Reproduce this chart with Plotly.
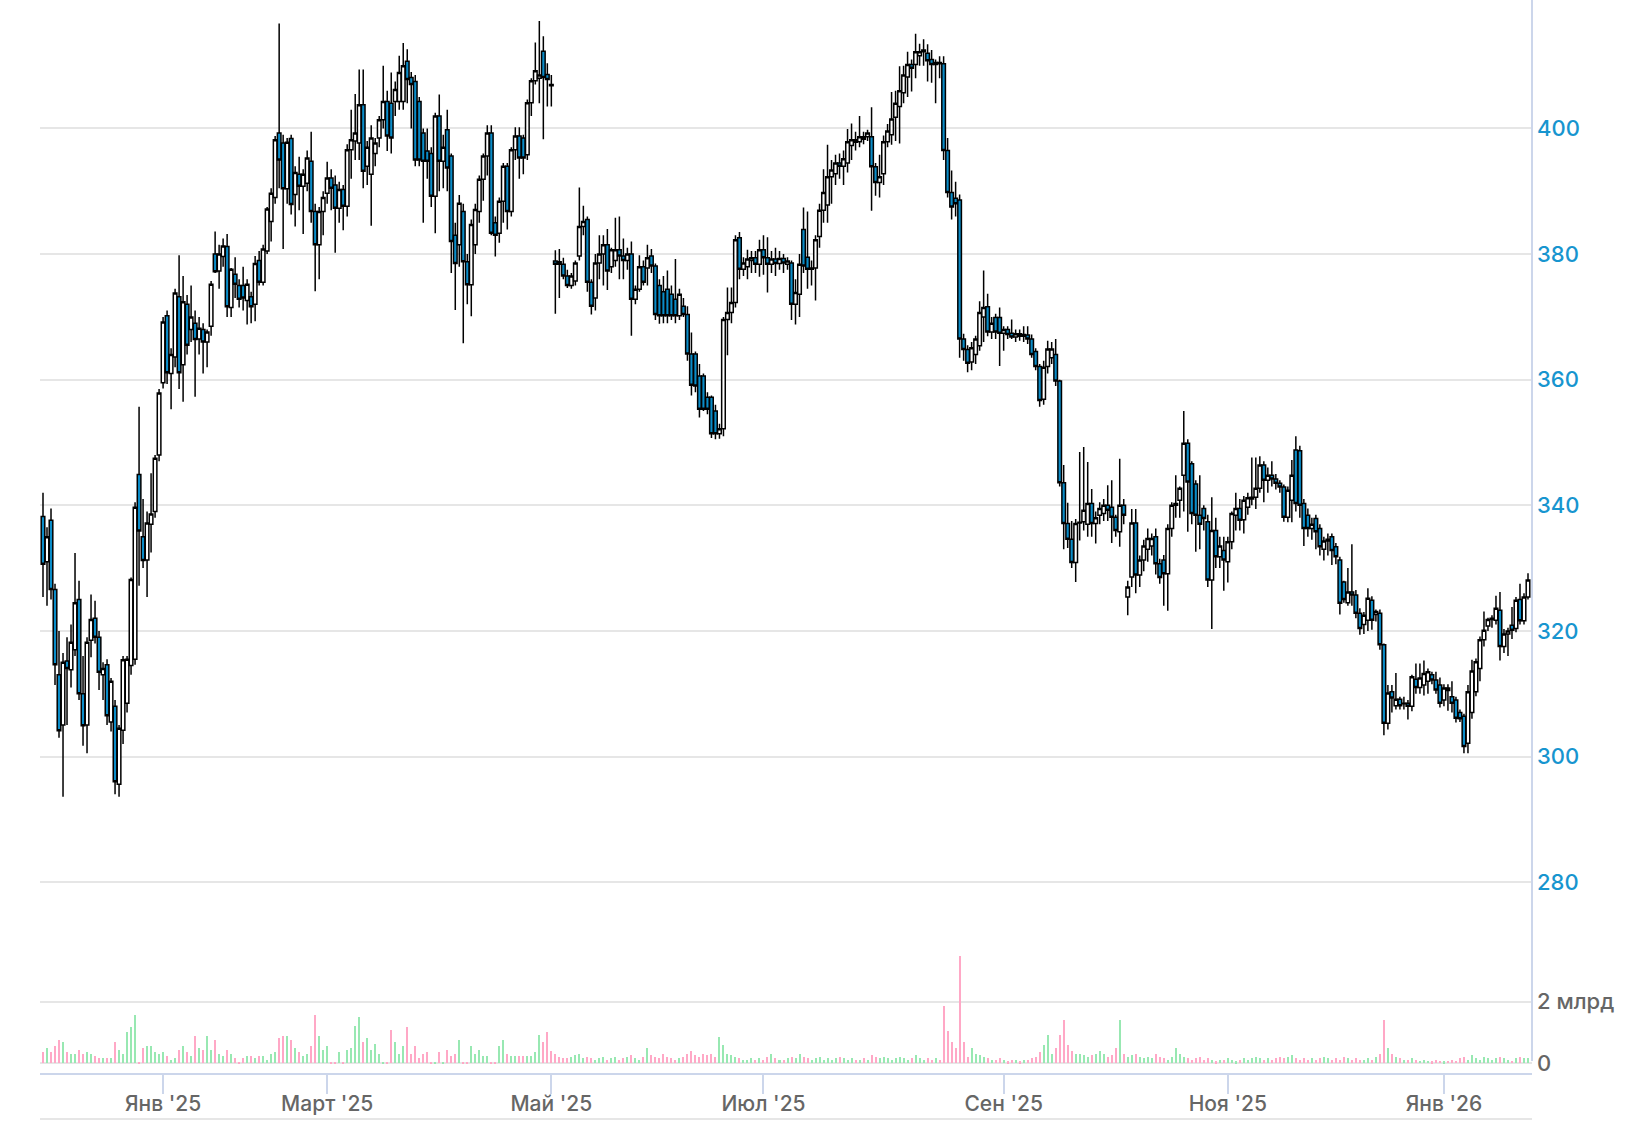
import plotly.graph_objects as go

# ---------------- data ----------------
opens = [
    338.2, 331, 337.6, 326.6, 313, 305, 315.2, 313.8, 317, 325,
    310, 305, 318.5, 322, 319, 313, 314.6, 305.5, 308, 295.6,
    304.2, 308.5, 314.5, 315.5, 344.9, 335, 331.3, 337, 339, 348,
    359.5, 370.2, 361, 363.6, 373.2, 362.4, 372, 368, 369, 366.5,
    368, 366, 368.5, 380, 377.3, 379.6, 381.2, 371.5, 376.8, 375,
    375, 372.6, 373.2, 372, 379, 375.5, 380.5, 385.2, 389, 399.3,
    397.7, 390.4, 398.4, 389.5, 392.7, 390.8, 391.3, 394.8, 386.8, 381.5,
    386.8, 389.7, 392.1, 391, 387.3, 390.3, 387.6, 396.6, 398, 397.7,
    403.8, 394, 392.7, 396, 398.5, 401.4, 404.3, 404, 404.3, 404.3,
    404.3, 410.7, 408.1, 407.5, 404.3, 399.3, 396.4, 396, 389.2, 402,
    394.8, 399.8, 395.6, 383, 381.5, 386.8, 378.8, 375.1, 381.5, 386.8,
    391.9, 395.6, 399.3, 385, 383.3, 388.4, 394, 386.8, 396.6, 398.8,
    398.5, 395.8, 404.1, 407.6, 408, 412.3, 408.6, 407, 378.9, 378.8,
    378.4, 376.5, 375, 375.7, 379.7, 384.4, 385.5, 375.5, 373, 378.6,
    380, 381.5, 378, 379, 380.7, 379.7, 379, 380, 372.8, 374.4,
    378, 377.8, 379.7, 378.1, 375, 374, 374.4, 373.6, 372.8, 370.2,
    371.7, 370.4, 364.1, 364.1, 360.6, 360.6, 357.2, 357.2, 355, 351.4,
    352.2, 369.6, 370.7, 372.3, 382.6, 377.6, 378, 379, 379.4, 378.4,
    380.7, 379.4, 378.4, 379.2, 378.5, 379.3, 378.4, 378.6, 372, 373.6,
    383.9, 379.5, 377.6, 377.8, 382.8, 387, 387.8, 392.3, 392.8, 394.5,
    394, 394.5, 397.3, 398.2, 397.9, 398.7, 398.7, 398.7, 393.9, 391.4,
    392.8, 397.9, 399, 401.8, 403.5, 405.7, 408.2, 410.2, 410.2, 411.6,
    412.2, 412, 411, 410.2, 410.5, 410.3, 396.5, 389.8, 388.9, 388.6,
    366.5, 364.8, 362.8, 364, 365.4, 370, 371.6, 367.6, 369.9, 369.9,
    367.4, 368, 367.4, 366.8, 367.3, 366.9, 367.1, 366.5, 364.5, 362.1,
    356.9, 362.1, 363.5, 364, 359.8, 343.6, 337.1, 334.6, 330.9, 337.2,
    337.4, 337, 340.3, 337.1, 338.4, 338.7, 340, 339.7, 338.1, 335.8,
    340, 325.4, 328.6, 337.2, 328.9, 331.3, 333, 333.5, 335, 330.7,
    331.3, 329.1, 336.3, 340, 340.8, 344.8, 349.9, 346.6, 343.4, 338.4,
    339.5, 337.4, 328.1, 336, 331.8, 332.8, 331, 334.2, 338.4, 339.5,
    337.7, 339.7, 341, 341.3, 342.7, 346.4, 344, 344.8, 344.2, 343.5,
    342.9, 338.1, 340.8, 348.8, 348.7, 340.3, 338.4, 336.3, 337.9, 336.3,
    333, 334.3, 335, 333.4, 331.3, 327.8, 324.5, 326.2, 325.7, 322.8,
    321, 321.7, 324.9, 322.6, 322.8, 317.8, 305.3, 310.3, 308.1, 309.1,
    308.4, 308.5, 308, 312.3, 311, 311.4, 312, 313, 312.2, 311.4,
    309, 310.9, 309.5, 309, 307, 306.4, 302.1, 307, 310.3, 314,
    318.6, 320.8, 321.8, 321.7, 323.3, 317.5, 319.5, 320.9, 320.4, 325,
    321.6, 325.4,
]
highs = [
    342, 336.5, 339.5, 327.5, 320, 316.5, 319, 321, 332.4, 328,
    316, 319, 325.8, 324.8, 320, 315, 315.5, 312.5, 309, 305,
    316, 316, 328.5, 340.5, 355.7, 341, 339, 345.1, 348, 358.5,
    370, 371, 365, 374.5, 379.8, 376.5, 373.5, 375, 371, 370,
    369, 368, 375.7, 383.6, 381.5, 382.5, 383.2, 377.8, 379.5, 376,
    378, 376, 374, 379.7, 380.5, 381.5, 387.5, 390.5, 398.8, 416.7,
    399, 398.5, 399, 394, 395.5, 393.5, 396.5, 399.5, 388, 387.5,
    390, 394.7, 393.5, 392.5, 391.5, 391, 397.5, 403, 405.5, 409.4,
    409.4, 398, 400.5, 398.5, 402, 410, 406, 408.9, 407.5, 411.6,
    413.6, 412.6, 409, 408.5, 405, 400, 400, 397, 402.5, 405.4,
    399, 403, 396, 385, 389.4, 388, 380, 385.5, 388, 392.5,
    396, 400.5, 400.5, 386, 389, 394.5, 394.5, 397, 400.2, 400.2,
    399, 404.6, 408, 413.7, 417.1, 414.7, 410.4, 408.5, 380.6, 380.8,
    379.4, 377.5, 377, 379, 390.6, 387.7, 386, 376, 380, 383,
    383, 384, 381, 385.8, 386, 382.5, 381, 382, 375, 379.8,
    379, 381.5, 380.8, 378.5, 376, 376.5, 377.4, 375, 379.2, 374.5,
    373, 371.7, 367.5, 364.5, 362.5, 361, 358, 357.5, 356, 353,
    370, 374.7, 374.7, 383, 383.5, 379.5, 380.7, 380.5, 380.5, 382.3,
    383, 382.7, 380.5, 381, 380.5, 380, 379.5, 379, 376, 380,
    387.4, 386.8, 379, 383, 388, 393.5, 397.4, 395, 395.8, 396,
    396.5, 399.9, 400.8, 399.5, 402, 399.5, 399.8, 403.4, 394.5, 395.8,
    398.9, 400.7, 405.8, 406, 409.9, 410, 412.2, 411, 415.1, 413.5,
    414.2, 413.4, 412.5, 411, 411.5, 411.5, 398.5, 393.3, 391.5, 389.5,
    367.3, 365.5, 366, 367, 372.5, 377.4, 373.7, 370, 370.5, 371.5,
    368.5, 368.5, 369.6, 368, 368, 368.5, 368.5, 367.2, 365, 362.5,
    363, 366.2, 366, 366.5, 360, 346.4, 340.4, 337.5, 337.8, 348.5,
    349.3, 346.9, 342.6, 339, 340.5, 341, 343.2, 344, 338.5, 347.4,
    341, 328, 339.4, 339.4, 332, 334.5, 336.3, 335.5, 336.3, 331.5,
    332.1, 337, 340.5, 344.8, 343, 355, 350.5, 347, 344, 344.8,
    340, 338.5, 341.3, 338, 335, 335, 335, 339, 342, 341,
    341.5, 342, 347.6, 347.6, 347.8, 347, 346, 347, 345, 344,
    343.3, 343, 347.2, 351, 349.5, 341, 339.5, 338, 338.5, 337,
    335, 335.5, 335.5, 334, 331.8, 328, 330, 333.8, 326.5, 323.6,
    323, 326.8, 325.5, 323.4, 323.4, 318, 311.4, 311.4, 313.3, 309.5,
    309.5, 309, 313, 314.8, 314.8, 315.3, 314, 313.5, 313.5, 312.6,
    311.5, 311.5, 312, 309.5, 307.5, 306.8, 311.4, 315.4, 315.6, 319.1,
    323.1, 322.1, 322.5, 325.6, 326.2, 320.3, 320.5, 323.8, 325.4, 327.5,
    326, 329.2,
]
lows = [
    325.4, 324, 325, 311.4, 303, 293.6, 305, 311, 316, 309,
    301.7, 300.5, 315.8, 318, 310.6, 309, 305, 304, 294, 293.6,
    302, 307, 313, 314.6, 327.2, 330, 325.4, 332.5, 338, 347,
    358.6, 359.3, 355.3, 362, 358.5, 356.5, 364, 366, 357.3, 364,
    361, 362, 367, 377, 374.5, 378, 370, 370, 373, 371.5,
    371, 368.8, 369, 369.3, 375, 375, 380, 382, 388, 390.5,
    380.8, 388, 386.3, 384.4, 387, 383.2, 390, 385, 374.1, 376,
    383, 388, 387, 380.2, 385, 383.8, 386, 392, 395, 395,
    390.5, 391, 384.5, 394, 397, 400, 396.4, 396, 402, 403,
    403, 404, 400, 394, 394, 385, 392, 387.5, 383.3, 390,
    390.5, 390, 377, 371.1, 378, 365.8, 372, 370.1, 380, 385,
    388.5, 392.5, 383, 379.6, 381.8, 385, 383.9, 386, 395, 392,
    392.7, 395, 402, 407, 404, 398.3, 403.5, 403.5, 370.5, 373,
    376, 374.6, 374.5, 375, 379, 383, 374, 370.4, 371, 376,
    375, 374.3, 377, 378, 376, 376, 377.5, 367, 372, 374,
    375, 375, 377, 369.5, 368.9, 369, 369, 369.5, 369, 369.5,
    370, 363, 357.5, 358, 354, 355, 354.5, 350.7, 350.5, 350.6,
    351, 363.9, 369, 371.5, 376, 376.5, 376, 377, 377, 376.4,
    376.7, 373.9, 377, 376.5, 377.5, 377, 377.5, 369.5, 368.8, 370,
    377, 374.5, 375, 372.6, 381, 385, 385, 388, 391, 392,
    391, 393, 395, 396.5, 397, 397.5, 398, 386.9, 389.3, 389,
    391, 397, 397.4, 398, 397.6, 404, 405, 405.9, 408, 410,
    410, 407.5, 407.3, 404, 408, 395, 389, 385.5, 386, 363.5,
    363, 361.2, 361.5, 362.5, 364.6, 366, 366.9, 366.5, 366.5, 362.2,
    364.6, 366.5, 366.5, 366, 366.2, 366, 365.7, 363.5, 361.5, 355.7,
    356, 361, 362.5, 359, 343, 333, 333.2, 330, 327.8, 334.4,
    336, 335, 335, 333.9, 337, 337.5, 337.5, 334, 335, 333.4,
    337, 322.5, 327, 326, 327, 329.5, 331, 332, 329, 327.5,
    324, 323.2, 335, 338, 338, 339, 335.8, 337, 332.6, 333,
    336, 327, 320.3, 330, 330, 326.4, 327.7, 333, 336, 336,
    335.5, 338.5, 340, 339.4, 342, 340.5, 342, 343, 342.5, 342,
    337.4, 337.3, 337.3, 339, 338, 333.5, 335, 334.5, 333, 332,
    331.2, 332, 330.5, 330.6, 322.6, 324.5, 324, 324, 322, 319.4,
    319.5, 320, 320.2, 321.5, 317, 303.4, 304.3, 307, 307.5, 307.5,
    307.5, 305.9, 307.2, 310, 310, 309.7, 310, 311.5, 310, 307.8,
    308, 307.3, 307, 305.4, 305.5, 300.5, 300.5, 306, 309.6, 312,
    317.5, 320, 320.5, 321, 315.3, 316.5, 316, 318.7, 319.8, 321,
    321, 325,
]
closes = [
    330.6, 335, 326.6, 314.6, 304.1, 315, 314, 318.2, 324.5, 310,
    304.9, 318.2, 321.8, 319, 313.4, 314, 306.5, 312, 296, 304.5,
    315.4, 315.5, 328.2, 339.7, 335.9, 331.2, 337.2, 338.6, 347.5, 357.9,
    369.2, 361.1, 364, 373.8, 361.1, 372.4, 365.5, 370, 366.4, 368.2,
    366, 367.6, 375.2, 377.2, 380, 381.3, 371.6, 377.6, 375.2, 372.8,
    373, 375.2, 371.6, 378.5, 375.5, 380.8, 387.2, 389.7, 398.2, 395,
    390.4, 397.8, 387.9, 393, 390.8, 392.7, 395.3, 386.8, 381.5, 386.8,
    389, 392.1, 390.5, 387.3, 390.3, 387.6, 396.6, 398.2, 399.3, 403.8,
    393.2, 397, 398.5, 397.7, 401.4, 404.3, 398.8, 398.5, 406.2, 408.9,
    410, 407.8, 407, 395, 395, 394.8, 394.8, 389.2, 402, 394.8,
    397, 393.7, 382, 378.5, 388.1, 378.8, 375.1, 384.7, 387.1, 391.9,
    395.6, 399.3, 383.3, 383, 388.4, 394, 386.8, 396.6, 398.8, 395.3,
    395.3, 404.1, 407.6, 409.2, 408.5, 408.1, 407.8, 406.8, 378.4, 378.4,
    376.5, 375, 376.5, 378.6, 384.4, 385.2, 375.5, 371.7, 378.6, 380,
    381.5, 377.3, 380.7, 380.7, 379.7, 379, 380, 372.8, 374.4, 378,
    375.5, 379.4, 378.1, 370.4, 370.2, 370.2, 370.2, 370.2, 370.2, 373.6,
    370.4, 364.1, 359.1, 359, 355.3, 355.3, 355.3, 351.4, 351.4, 352.2,
    369.6, 370.7, 372.3, 382.3, 377.6, 378.6, 379.2, 379.4, 378.4, 380.7,
    379.4, 378.4, 379.2, 378.5, 379.3, 378.6, 378.9, 372, 373.9, 378.4,
    378.1, 377.6, 377.8, 382.3, 387, 389.8, 392.3, 393.4, 394.5, 394,
    395.2, 397.9, 398.2, 397.8, 398.7, 398.3, 399.3, 393.9, 391.4, 392.3,
    397.9, 399.6, 401.5, 404, 406, 408.5, 410.2, 409.6, 412.2, 412.2,
    412.5, 410.8, 410.2, 410.5, 410.3, 396.5, 389.8, 387.5, 388, 366.5,
    364.8, 362.6, 365.1, 366.5, 370.7, 371.5, 367.6, 369, 367.6, 367.4,
    368, 367.2, 366.8, 367.3, 366.9, 367.2, 366.5, 364, 362.1, 356.7,
    362, 364.9, 364.9, 359.8, 343.6, 337.1, 334.6, 330.9, 337.1, 337.3,
    339.2, 340.3, 337.1, 338, 339.5, 340, 339.2, 338.1, 336, 340,
    338.4, 327, 337.2, 328.9, 331.3, 333.5, 334.7, 334.7, 330.7, 328.5,
    329.1, 336.3, 340, 340.3, 342.7, 349.9, 343.7, 338.7, 338.4, 337,
    337.9, 328.1, 336, 331.8, 333.5, 331.3, 334.2, 338.7, 339.5, 337.6,
    340.8, 341.2, 341.3, 342.7, 346.4, 344, 344.8, 344.2, 343.5, 342.9,
    338.1, 342.4, 344.8, 340.3, 340, 336.3, 336.3, 337, 335.8, 333.4,
    334.3, 334.6, 332.8, 331.8, 324.4, 325, 326.2, 325.7, 322.8, 320.4,
    322.5, 325.2, 321.7, 323.1, 317.8, 305.3, 310.1, 309.3, 309.1, 308.1,
    308.5, 308, 312.7, 311, 312.5, 313.2, 313.5, 312.2, 310.6, 308.5,
    310.9, 310.5, 308.5, 306.1, 306, 301.6, 310.3, 313.6, 315.1, 318.6,
    320.1, 321.8, 322, 323.6, 317.5, 319.5, 320, 320.1, 324.9, 321.6,
    325.4, 328.1,
]
# volume, millions of shares
volumes = [
    360, 490, 360, 560, 760, 690, 360, 290, 290, 420,
    290, 360, 290, 220, 160, 160, 160, 160, 690, 420,
    290, 1020, 1160, 1560, 8, 490, 560, 560, 360, 290,
    360, 220, 90, 160, 420, 560, 360, 220, 890, 490,
    420, 890, 420, 760, 290, 220, 420, 290, 160, 8,
    160, 220, 220, 160, 220, 220, 90, 290, 360, 820,
    890, 890, 760, 490, 360, 220, 290, 560, 1560, 890,
    420, 560, 8, 8, 360, 8, 420, 490, 1220, 1490,
    690, 820, 420, 620, 290, 8, 8, 1090, 690, 290,
    560, 1160, 290, 560, 160, 290, 360, 8, 8, 360,
    8, 420, 220, 290, 760, 8, 8, 560, 290, 420,
    220, 220, 8, 8, 560, 760, 290, 220, 220, 220,
    220, 220, 220, 360, 900, 700, 1000, 400, 300, 200,
    150, 150, 200, 250, 300, 150, 200, 150, 100, 150,
    200, 100, 150, 200, 100, 150, 200, 250, 150, 100,
    200, 500, 250, 200, 150, 300, 200, 150, 100, 150,
    200, 300, 400, 250, 200, 300, 250, 300, 200, 850,
    600, 300, 250, 200, 150, 100, 100, 150, 100, 150,
    100, 200, 300, 150, 100, 100, 150, 200, 150, 300,
    200, 150, 100, 150, 200, 100, 150, 100, 150, 200,
    150, 100, 150, 100, 100, 150, 100, 250, 200, 150,
    200, 150, 100, 150, 200, 150, 100, 150, 250, 150,
    100, 150, 100, 150, 100, 1850, 1050, 700, 500, 3470,
    700, 200, 500, 300, 250, 200, 150, 100, 100, 150,
    100, 50, 100, 100, 50, 100, 100, 150, 200, 350,
    600, 900, 300, 500, 900, 1400, 600, 400, 300, 300,
    250, 200, 250, 300, 400, 300, 200, 250, 500, 1400,
    300, 200, 250, 300, 200, 150, 200, 150, 300, 200,
    150, 100, 200, 500, 300, 200, 150, 100, 150, 200,
    100, 150, 100, 50, 100, 100, 150, 100, 50, 100,
    150, 100, 150, 200, 150, 100, 150, 100, 150, 200,
    150, 200, 250, 150, 100, 150, 100, 150, 100, 150,
    200, 150, 100, 150, 100, 200, 150, 100, 150, 100,
    100, 150, 100, 200, 300, 1400, 500, 300, 200, 150,
    100, 100, 150, 100, 80, 100, 80, 50, 100, 80,
    50, 80, 100, 80, 150, 200, 100, 250, 150, 100,
    200, 150, 100, 150, 200, 150, 100, 80, 150, 200,
    150, 150,
]
# session index of the first trading day of each labelled month
month_ticks = [30, 71, 127, 180, 240, 296, 350]
month_labels = ["Янв '25", "Март '25", "Май '25", "Июл '25", "Сен '25", "Ноя '25", "Янв '26"]
price_ticks = [280, 300, 320, 340, 360, 380, 400]
volume_ticks = [0, 2000, 4000]
volume_labels = ["0", "2 млрд", ""]

n = len(closes)
idx = list(range(n))

UP_VOL = "#98e8b2"
DOWN_VOL = "#ffa8c6"
vol_colors = [UP_VOL if c >= o else DOWN_VOL for o, c in zip(opens, closes)]

FONT = "Inter, Lato, 'Noto Sans', sans-serif"
GRID = "#e6e6e6"
AXIS = "#ccd6eb"

fig = go.Figure()
fig.add_trace(go.Bar(
    x=idx, y=volumes, width=0.5,
    marker=dict(color=vol_colors, line=dict(width=0)),
    xaxis="x", yaxis="y2", showlegend=False, hoverinfo="skip",
))
fig.add_trace(go.Candlestick(
    x=idx, open=opens, high=highs, low=lows, close=closes,
    increasing=dict(line=dict(color="#000000", width=1.5), fillcolor="#ffffff"),
    decreasing=dict(line=dict(color="#000000", width=1.5), fillcolor="#0a8cc8"),
    whiskerwidth=0, xaxis="x", yaxis="y", showlegend=False, hoverinfo="skip",
))

fig.update_layout(
    width=1643, height=1122,
    margin=dict(l=40, r=111, t=0, b=49),
    paper_bgcolor="#ffffff", plot_bgcolor="#ffffff",
    font=dict(family=FONT),
    showlegend=False,
    bargap=0,
    boxgap=0.1, boxgroupgap=0,
    xaxis=dict(
        range=[-0.75, 372.0], domain=[0, 1], anchor="y2",
        rangeslider=dict(visible=False),
        tickmode="array", tickvals=month_ticks, ticktext=month_labels,
        showgrid=False, zeroline=False,
        showline=True, linecolor=AXIS, linewidth=2,
        ticks="outside", ticklen=19, tickwidth=2, tickcolor=AXIS,
        tickfont=dict(size=21, color="#666666", family=FONT, weight=500),
        ticklabelstandoff=-8,
    ),
    yaxis=dict(
        domain=[0.1724, 1], range=[279.06, 420.46], side="right", anchor="x",
        tickmode="array", tickvals=price_ticks,
        showgrid=True, gridcolor=GRID, gridwidth=1.5, zeroline=False,
        showline=False, ticks="",
        tickfont=dict(size=22, color="#1795cf", family=FONT, weight=500),
        ticklabelstandoff=4,
    ),
    yaxis2=dict(
        domain=[0, 0.12395], range=[-325, 4005], side="right", anchor="x",
        tickmode="array", tickvals=volume_ticks, ticktext=volume_labels,
        showgrid=True, gridcolor=GRID, gridwidth=1.5, zeroline=False,
        showline=False, ticks="",
        tickfont=dict(size=22, color="#666666", family=FONT, weight=500),
        ticklabelstandoff=4,
    ),
    shapes=[
        dict(type="line", xref="paper", yref="paper", x0=1, x1=1,
             y0=12 / 1073, y1=1, line=dict(color=AXIS, width=2)),
        dict(type="line", xref="paper", yref="paper", x0=0, x1=1,
             y0=-46 / 1073, y1=-46 / 1073, line=dict(color=GRID, width=2)),
    ],
)

fig.write_html(
    "out.html",
    config={"displayModeBar": False},
    post_script="document.body.style.margin='0';document.body.style.padding='0';"
                "document.documentElement.style.overflow='hidden';",
)
